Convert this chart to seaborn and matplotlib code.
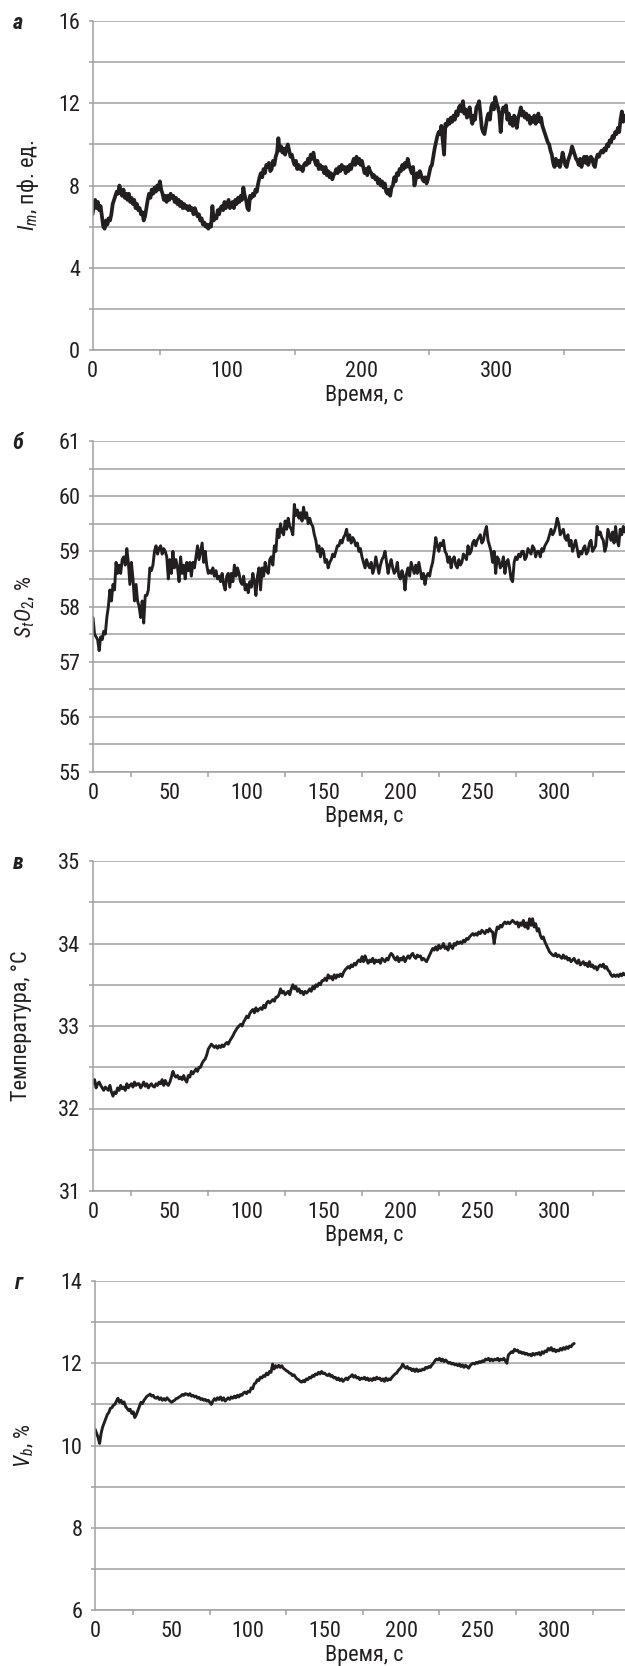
import numpy as np
import pandas as pd
import seaborn as sns
import matplotlib
matplotlib.use('Agg')
import matplotlib.pyplot as plt
from matplotlib import font_manager as fm

# --- данные (шаг 1 с) ---
im_vals = [
    6.6, 7.0, 7.3, 6.9, 7.2, 6.8, 7.0, 6.5, 6.0, 5.9,
    6.3, 6.1, 6.4, 6.3, 6.6, 7.1, 7.3, 7.5, 7.7, 7.6,
    8.0, 7.7, 7.5, 7.8, 7.4, 7.6, 7.3, 7.6, 7.2, 7.4,
    7.1, 7.3, 6.9, 7.1, 6.8, 6.9, 6.6, 6.7, 6.3, 6.5,
    6.9, 7.3, 7.6, 7.4, 7.8, 7.6, 7.9, 7.7, 8.0, 7.8,
    8.2, 7.8, 7.6, 7.3, 7.5, 7.2, 7.5, 7.3, 7.6, 7.4,
    7.5, 7.2, 7.4, 7.1, 7.3, 7.0, 7.2, 6.9, 7.1, 6.9,
    7.0, 6.8, 7.0, 6.8, 6.9, 6.6, 6.9, 6.7, 6.5, 6.6,
    6.3, 6.4, 6.1, 6.2, 6.0, 6.1, 5.9, 6.1, 6.0, 7.0,
    6.3, 6.5, 6.4, 6.8, 6.6, 6.9, 7.0, 6.8, 7.2, 6.9,
    7.1, 7.3, 6.9, 7.0, 7.2, 6.9, 7.3, 7.1, 7.4, 7.2,
    7.5, 7.3, 7.9, 7.5, 7.3, 6.9, 6.8, 7.5, 7.4, 7.6,
    7.5, 7.8, 7.7, 8.1, 8.4, 8.6, 8.4, 8.8, 8.6, 9.0,
    8.9, 9.1, 8.7, 8.8, 9.2, 9.0, 9.4, 9.6, 10.3, 9.7,
    9.9, 9.6, 9.8, 9.5, 9.8, 10.0, 9.7, 9.4, 9.5, 9.2,
    9.0, 9.2, 8.8, 9.0, 8.8, 8.9, 8.7, 9.0, 9.1, 9.0,
    9.3, 9.1, 9.5, 9.3, 9.6, 9.2, 9.0, 9.2, 8.8, 9.0,
    8.8, 8.9, 8.6, 8.9, 8.5, 8.7, 8.4, 8.6, 8.3, 8.5,
    8.6, 8.8, 8.6, 8.9, 8.7, 9.0, 8.8, 8.9, 8.6, 8.9,
    8.7, 9.0, 8.8, 9.1, 9.3, 9.0, 9.4, 9.1, 9.3, 9.0,
    9.2, 8.9, 8.6, 8.8, 8.5, 8.9, 8.7, 8.6, 8.4, 8.5,
    8.3, 8.4, 8.1, 8.3, 8.0, 8.2, 7.9, 8.1, 7.7, 7.6,
    7.8, 7.5, 7.9, 8.0, 8.4, 8.2, 8.6, 8.5, 8.8, 8.7,
    9.0, 8.8, 9.1, 8.9, 9.3, 9.0, 8.8, 8.6, 8.9, 8.0,
    8.3, 8.6, 8.4, 8.7, 8.5, 8.3, 8.2, 8.4, 8.1, 8.3,
    8.6, 8.9, 9.0, 9.4, 9.8, 10.1, 10.4, 10.6, 10.5, 10.9,
    10.2, 9.5, 11.0, 10.9, 11.2, 11.0, 11.3, 11.1, 11.4, 11.2,
    11.6, 11.4, 11.8, 11.9, 11.6, 12.1, 11.5, 11.7, 11.3, 11.5,
    11.8, 11.3, 11.0, 11.4, 11.2, 11.8, 11.9, 12.1, 11.5, 10.8,
    10.6, 10.5, 10.9, 11.3, 11.5, 11.2, 11.8, 12.0, 11.7, 12.3,
    12.0, 11.8, 11.5, 10.6, 11.4, 11.8, 11.6, 11.9, 11.2, 11.5,
    11.0, 11.3, 10.9, 11.4, 11.2, 10.8, 11.3, 11.5, 11.8, 11.4,
    11.6, 11.3, 11.5, 11.2, 11.4, 11.0, 11.3, 11.1, 11.4, 11.0,
    11.2, 11.5, 11.1, 11.3, 10.9, 10.7, 10.5, 10.3, 10.1, 10.0,
    9.7, 9.5, 9.1, 8.9, 9.3, 9.0, 9.2, 8.9, 9.2, 9.6,
    9.3, 9.0, 8.9, 9.2, 9.4, 9.6, 9.9, 9.7, 9.5, 9.3,
    9.2, 9.0, 9.3, 8.9, 9.2, 9.4, 9.1, 9.4, 9.0, 9.2,
    9.4, 9.3, 9.0, 8.9, 9.3, 9.5, 9.4, 9.6, 9.7, 9.6,
    9.8, 9.7, 10.0, 9.9, 10.2, 10.1, 10.4, 10.3, 10.6, 10.5,
    10.8, 10.6, 11.2, 11.6, 11.1, 11.4,
]

sto2_vals = [
    57.8, 57.5, 57.45, 57.4, 57.2, 57.45, 57.4, 57.55, 57.5, 57.8,
    58.0, 58.3, 58.1, 58.4, 58.3, 58.8, 58.6, 58.75, 58.6, 58.85,
    58.9, 58.75, 59.05, 58.8, 58.4, 58.8, 58.5, 58.1, 58.4, 58.1,
    58.0, 57.8, 58.1, 57.7, 58.2, 58.2, 58.3, 58.7, 58.65, 58.75,
    59.0, 59.1, 58.95, 59.05, 59.1, 58.95, 59.05, 59.0, 58.9, 58.5,
    58.85, 58.6, 59.0, 58.7, 58.85, 58.7, 58.45, 58.9, 58.6, 58.75,
    58.5, 58.8, 58.65, 58.8, 58.55, 58.8, 58.7, 58.9, 59.1, 58.85,
    59.0, 59.15, 58.8, 59.0, 58.75, 58.6, 58.65, 58.6, 58.7, 58.55,
    58.65, 58.5, 58.55, 58.45, 58.6, 58.4, 58.3, 58.55, 58.6, 58.35,
    58.6, 58.45, 58.75, 58.55, 58.7, 58.6, 58.45, 58.4, 58.55, 58.3,
    58.4, 58.25, 58.45, 58.35, 58.6, 58.45, 58.2, 58.55, 58.7, 58.3,
    58.7, 58.55, 58.8, 58.65, 58.6, 58.85, 58.9, 58.75, 59.1, 59.0,
    59.4, 59.25, 59.5, 59.35, 59.3, 59.55, 59.4, 59.6, 59.45, 59.4,
    59.3, 59.85, 59.65, 59.75, 59.6, 59.7, 59.55, 59.8, 59.6, 59.7,
    59.5, 59.6, 59.5, 59.45, 59.3, 59.2, 59.0, 59.1, 58.9, 59.05,
    59.0, 58.8, 58.85, 58.7, 58.8, 58.85, 58.95, 58.9, 59.0, 59.1,
    59.1, 59.2, 59.15, 59.25, 59.3, 59.4, 59.2, 59.3, 59.15, 59.25,
    59.2, 59.1, 59.15, 59.0, 59.05, 58.9, 58.8, 58.7, 58.85, 58.75,
    58.7, 58.8, 58.6, 58.7, 58.9, 58.75, 58.6, 58.75, 58.85, 58.9,
    59.0, 58.8, 58.6, 58.75, 58.85, 58.7, 58.6, 58.65, 58.8, 58.55,
    58.5, 58.65, 58.55, 58.3, 58.6, 58.7, 58.55, 58.8, 58.7, 58.6,
    58.75, 58.6, 58.8, 58.65, 58.5, 58.6, 58.4, 58.55, 58.6, 58.55,
    58.7, 58.8, 59.0, 59.25, 59.1, 59.0, 59.15, 59.1, 59.2, 59.0,
    58.95, 58.8, 58.9, 58.7, 58.85, 58.9, 58.75, 58.7, 58.85, 58.75,
    58.8, 58.95, 58.9, 58.85, 59.1, 58.95, 59.0, 59.15, 59.2, 59.1,
    59.2, 59.25, 59.3, 59.15, 59.2, 59.35, 59.45, 59.2, 59.1, 59.0,
    58.8, 59.0, 58.6, 58.9, 58.85, 58.7, 58.75, 58.9, 58.6, 58.8,
    58.85, 58.7, 58.5, 58.45, 58.8, 58.9, 58.85, 58.95, 58.9, 59.0,
    59.0, 58.85, 58.9, 59.05, 59.0, 58.95, 59.1, 59.05, 58.9, 59.0,
    59.0, 58.9, 59.05, 59.0, 59.1, 59.15, 59.2, 59.3, 59.4, 59.3,
    59.35, 59.45, 59.6, 59.5, 59.3, 59.35, 59.4, 59.25, 59.2, 59.3,
    59.1, 59.2, 59.0, 59.1, 59.2, 59.05, 58.9, 59.0, 58.95, 59.05,
    59.1, 58.95, 59.0, 59.15, 59.2, 59.0, 59.05, 59.1, 59.45, 59.3,
    59.35, 59.25, 59.2, 59.0, 59.1, 59.4, 59.3, 59.2, 59.35, 59.15,
    59.45, 59.2, 59.1, 59.4, 59.3, 59.45, 59.35,
]

temp_vals = [
    32.3, 32.35, 32.25, 32.3, 32.32, 32.28, 32.25, 32.22, 32.26, 32.24,
    32.22, 32.28, 32.2, 32.15, 32.2, 32.18, 32.25, 32.22, 32.28, 32.24,
    32.26, 32.22, 32.3, 32.25, 32.28, 32.3, 32.26, 32.32, 32.28, 32.3,
    32.3, 32.25, 32.28, 32.32, 32.27, 32.3, 32.25, 32.28, 32.3, 32.27,
    32.26, 32.3, 32.28, 32.32, 32.3, 32.35, 32.28, 32.34, 32.3, 32.28,
    32.32, 32.38, 32.45, 32.4, 32.38, 32.4, 32.36, 32.38, 32.35, 32.4,
    32.35, 32.32, 32.4, 32.38, 32.45, 32.42, 32.45, 32.48, 32.45, 32.5,
    32.5, 32.55, 32.58, 32.6, 32.65, 32.72, 32.75, 32.78, 32.76, 32.74,
    32.76, 32.73, 32.76, 32.74, 32.77, 32.75, 32.78, 32.8, 32.78, 32.82,
    32.85, 32.88, 32.92, 32.95, 32.98, 33.0, 33.02, 33.0, 33.05, 33.08,
    33.12, 33.1, 33.15, 33.18, 33.2, 33.16, 33.22, 33.18, 33.2, 33.22,
    33.2, 33.25, 33.22, 33.28, 33.3, 33.28, 33.3, 33.32, 33.3, 33.35,
    33.35, 33.38, 33.45, 33.4, 33.42, 33.38, 33.4, 33.42, 33.38, 33.45,
    33.5, 33.45, 33.48, 33.42, 33.45, 33.4, 33.42, 33.38, 33.42, 33.4,
    33.42, 33.45, 33.42, 33.48, 33.45, 33.5, 33.48, 33.52, 33.5, 33.55,
    33.55, 33.58, 33.55, 33.62, 33.58, 33.6, 33.56, 33.62, 33.58, 33.62,
    33.6, 33.63, 33.6, 33.65, 33.68, 33.7, 33.72, 33.7, 33.74, 33.72,
    33.76, 33.74, 33.78, 33.8, 33.78, 33.84, 33.78, 33.85, 33.8, 33.76,
    33.8, 33.78, 33.82, 33.76, 33.8, 33.78, 33.8, 33.76, 33.82, 33.8,
    33.78, 33.82, 33.8, 33.85, 33.88, 33.86, 33.82, 33.8, 33.84, 33.78,
    33.82, 33.8, 33.84, 33.78, 33.82, 33.85, 33.82, 33.86, 33.88, 33.84,
    33.82, 33.86, 33.84, 33.85, 33.8, 33.82, 33.8, 33.78, 33.82, 33.86,
    33.9, 33.94, 33.92, 33.96, 33.92, 33.98, 33.94, 33.96, 34.0, 33.94,
    33.96, 33.92, 34.0, 33.96, 33.94, 34.0, 33.98, 34.02, 34.0, 34.02,
    34.0, 34.04, 34.02, 34.06, 34.05, 34.08, 34.1, 34.12, 34.1, 34.12,
    34.1, 34.14, 34.12, 34.16, 34.14, 34.12, 34.16, 34.14, 34.18, 34.15,
    34.14, 34.0, 34.12, 34.2, 34.18, 34.22, 34.2, 34.24, 34.26, 34.24,
    34.26, 34.24, 34.26, 34.28, 34.26, 34.24, 34.26, 34.2, 34.25, 34.22,
    34.28, 34.2, 34.25, 34.18, 34.3, 34.22, 34.3, 34.2, 34.24, 34.15,
    34.18, 34.1, 34.06, 34.08, 34.02, 33.98, 33.94, 33.9, 33.88, 33.86,
    33.85, 33.88, 33.84, 33.86, 33.84, 33.82, 33.86, 33.82, 33.84, 33.8,
    33.82, 33.78, 33.8, 33.82, 33.78, 33.76, 33.8, 33.74, 33.76, 33.78,
    33.74, 33.76, 33.72, 33.78, 33.72, 33.74, 33.7, 33.72, 33.68, 33.72,
    33.74, 33.72, 33.75, 33.7, 33.72, 33.68, 33.66, 33.62, 33.6, 33.62,
    33.6, 33.62, 33.6, 33.63, 33.61, 33.64, 33.62,
]

vb_vals = [
    10.4, 10.3, 10.2, 10.05, 10.3, 10.45, 10.55, 10.65, 10.75, 10.8,
    10.9, 10.92, 10.98, 11.0, 11.08, 11.15, 11.05, 11.1, 11.02, 11.06,
    10.95, 10.9, 10.85, 10.88, 10.78, 10.82, 10.68, 10.75, 10.85, 10.95,
    11.05, 11.02, 11.1, 11.15, 11.2, 11.22, 11.25, 11.2, 11.22, 11.16,
    11.15, 11.18, 11.12, 11.16, 11.1, 11.14, 11.1, 11.16, 11.12, 11.08,
    11.05, 11.08, 11.1, 11.14, 11.15, 11.18, 11.2, 11.24, 11.22, 11.26,
    11.25, 11.22, 11.26, 11.2, 11.22, 11.18, 11.2, 11.15, 11.17, 11.12,
    11.14, 11.1, 11.12, 11.08, 11.1, 11.05, 11.0, 11.08, 11.14, 11.1,
    11.16, 11.12, 11.18, 11.1, 11.16, 11.08, 11.12, 11.16, 11.12, 11.18,
    11.15, 11.2, 11.16, 11.22, 11.18, 11.24, 11.22, 11.28, 11.3, 11.26,
    11.32, 11.3, 11.4, 11.38, 11.5, 11.52, 11.6, 11.58, 11.66, 11.64,
    11.7, 11.68, 11.76, 11.72, 11.8, 11.78, 11.98, 11.86, 11.94, 11.9,
    11.95, 11.9, 11.94, 11.88, 11.85, 11.82, 11.8, 11.76, 11.75, 11.7,
    11.72, 11.66, 11.62, 11.6, 11.56, 11.54, 11.58, 11.55, 11.62, 11.6,
    11.66, 11.64, 11.7, 11.68, 11.74, 11.72, 11.78, 11.74, 11.8, 11.75,
    11.76, 11.72, 11.7, 11.74, 11.68, 11.7, 11.64, 11.66, 11.6, 11.64,
    11.58, 11.62, 11.56, 11.6, 11.64, 11.6, 11.66, 11.68, 11.72, 11.66,
    11.7, 11.64, 11.66, 11.6, 11.64, 11.62, 11.66, 11.6, 11.64, 11.58,
    11.62, 11.58, 11.64, 11.6, 11.66, 11.62, 11.64, 11.58, 11.62, 11.56,
    11.64, 11.58, 11.62, 11.6, 11.66, 11.7, 11.74, 11.76, 11.82, 11.86,
    11.9, 11.98, 11.92, 11.88, 11.92, 11.86, 11.88, 11.82, 11.86, 11.8,
    11.86, 11.8, 11.84, 11.82, 11.86, 11.84, 11.9, 11.88, 11.92, 11.9,
    11.96, 12.0, 12.06, 12.1, 12.08, 12.12, 12.06, 12.1, 12.04, 12.08,
    12.04, 12.0, 12.02, 11.98, 12.0, 11.96, 11.98, 11.94, 11.98, 11.92,
    11.96, 11.9, 11.95, 11.92, 11.88, 11.94, 11.98, 12.0, 11.98, 12.02,
    12.0, 12.04, 12.02, 12.06, 12.04, 12.1, 12.08, 12.12, 12.06, 12.1,
    12.06, 12.1, 12.08, 12.12, 12.06, 12.1, 12.08, 12.12, 12.06, 12.0,
    12.2, 12.24, 12.28, 12.26, 12.34, 12.3, 12.32, 12.26, 12.28, 12.24,
    12.26, 12.22, 12.24, 12.2, 12.22, 12.18, 12.24, 12.2, 12.24, 12.22,
    12.26, 12.2, 12.28, 12.24, 12.3, 12.28, 12.36, 12.32, 12.38, 12.3,
    12.34, 12.28, 12.32, 12.3, 12.36, 12.32, 12.38, 12.34, 12.4, 12.36,
    12.42, 12.4, 12.46, 12.48,
]

letters = ['а', 'б', 'в', 'г']
ylabels = [r'$I_m$, пф. ед.', r'$S_tO_2$, %', 'Температура, °С', r'$V_b$, %']
ylims = [(0, 16), (55, 61), (31, 35), (6, 14)]
ymajor = [[0, 4, 8, 12, 16], [55, 56, 57, 58, 59, 60, 61],
          [31, 32, 33, 34, 35], [6, 8, 10, 12, 14]]
yminor = [[2, 6, 10, 14], [55.5, 56.5, 57.5, 58.5, 59.5, 60.5],
          [31.5, 32.5, 33.5, 34.5], [7, 9, 11, 13]]
xmajor = [[0, 100, 200, 300], [0, 50, 100, 150, 200, 250, 300],
          [0, 50, 100, 150, 200, 250, 300], [0, 50, 100, 150, 200, 250, 300]]
xminor = [[50, 150, 250, 350], [25, 75, 125, 175, 225, 275, 325, 375],
          [25, 75, 125, 175, 225, 275, 325, 375], [25, 75, 125, 175, 225, 275, 325, 375]]
series = [im_vals, sto2_vals, temp_vals, vb_vals]

sns.set_theme(style='white')

# узкий шрифт, если он есть
names = {f.name for f in fm.fontManager.ttflist}
fam, stretch = 'Liberation Sans', 'normal'
for pref in ['Liberation Sans Narrow', 'Roboto Condensed', 'Open Sans Condensed',
             'Noto Sans Condensed', 'DejaVu Sans Condensed', 'Arial Narrow']:
    if pref in names:
        fam = pref
        break
else:
    for f in fm.fontManager.ttflist:
        if str(f.stretch) in ('condensed', 'semi-condensed', '75', '87.5') and \
                f.name in ('Roboto', 'Open Sans', 'Noto Sans', 'DejaVu Sans', 'Inter', 'Lato'):
            fam, stretch = f.name, 'condensed'
            break

plt.rcParams['font.family'] = [fam, 'DejaVu Sans']
plt.rcParams['font.stretch'] = stretch
plt.rcParams['mathtext.fontset'] = 'custom'
plt.rcParams['mathtext.it'] = fam + ':italic'
plt.rcParams['mathtext.rm'] = fam
fs = 16 if fam != 'Liberation Sans' else 15.5

W, H = 625, 1666
fig = plt.figure(figsize=(W / 100, H / 100), dpi=100)

# положение осей в пикселях: left, top, bottom, px на 100 с
boxes = [(92.5, 21, 350, 134.7), (93, 441, 772, 153.7),
         (93, 861, 1191, 153.7), (95, 1281, 1610, 153.1)]
grey = '#a0a0a0'
ink = '#231f20'

for i in range(4):
    left, top, bot, scale = boxes[i]
    width = 4 * scale
    ax = fig.add_axes([left / W, 1 - bot / H, width / W, (bot - top) / H])
    df = pd.DataFrame({'t': np.arange(len(series[i])), 'v': series[i]})
    sns.lineplot(data=df, x='t', y='v', ax=ax, color=ink,
                 linewidth=2.7 if i == 0 else 2.1)
    ax.set_xlim(0, 400)
    ax.set_ylim(*ylims[i])
    ax.set_yticks(ymajor[i])
    ax.set_yticks(yminor[i], minor=True)
    ax.set_xticks(xmajor[i])
    ax.set_xticks(xminor[i], minor=True)
    ax.grid(axis='y', which='both', color=grey, linewidth=1.1)
    ax.grid(axis='x', visible=False)
    for s in ['top', 'right']:
        ax.spines[s].set_visible(False)
    for s in ['left', 'bottom']:
        ax.spines[s].set_color(grey)
        ax.spines[s].set_linewidth(1.1)
    ax.tick_params(axis='y', which='both', left=True, length=3, width=1.1,
                   color=grey, pad=6, labelsize=fs, labelcolor=ink)
    ax.tick_params(axis='x', which='major', bottom=True, length=0, pad=8,
                   labelsize=fs, labelcolor=ink)
    ax.tick_params(axis='x', which='minor', bottom=True, length=3.5, width=1.1,
                   color=grey)
    ax.set_xlabel('Время, с', fontsize=fs, color=ink, va='center')
    ax.xaxis.set_label_coords((364.5 - left) / width, -45 / (bot - top))
    ax.set_ylabel(ylabels[i], fontsize=fs, color=ink, va='center')
    ylx = [28, 25, 22, 24][i]
    ax.yaxis.set_label_coords((ylx - left) / width, 0.5)
    fig.text(18 / W, 1 - (top + 2) / H, letters[i], fontsize=fs,
             fontweight='bold', fontstyle='italic', color=ink,
             ha='center', va='center')

fig.savefig('out.png', dpi=100)
